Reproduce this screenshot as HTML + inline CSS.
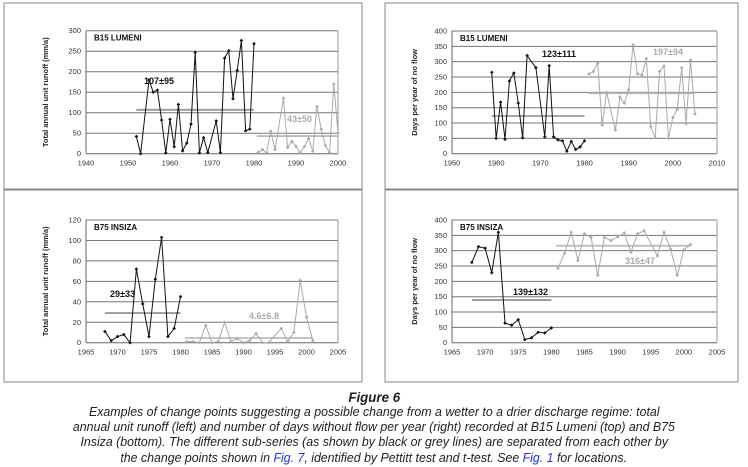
<!DOCTYPE html>
<html><head><meta charset="utf-8">
<style>
body{margin:0;width:748px;height:467px;background:#fff;overflow:hidden;font-family:"Liberation Sans",sans-serif;}
#fig{position:absolute;left:0;top:0}
.cap{position:absolute;left:0;width:748px;text-align:center;font-style:italic;color:#222;white-space:nowrap}
.cap span.l{display:inline-block;transform:scaleX(0.95);transform-origin:center}
a{color:#2233dd;text-decoration:none}
</style></head><body>
<svg id="fig" width="748" height="467" xmlns="http://www.w3.org/2000/svg"></svg>
<div class="cap" style="top:389px;font-size:14px;font-weight:bold"><span class="l">Figure 6</span></div>
<div class="cap" style="top:404px;font-size:13px;line-height:15.2px">
<span class="l">Examples of change points suggesting a possible change from a wetter to a drier discharge regime: total</span><br>
<span class="l">annual unit runoff (left) and number of days without flow per year (right) recorded at B15 Lumeni (top) and B75</span><br>
<span class="l">Insiza (bottom). The different sub-series (as shown by black or grey lines) are separated from each other by</span><br>
<span class="l">the change points shown in <a href="#">Fig. 7</a>, identified by Pettitt test and t-test. See <a href="#">Fig. 1</a> for locations.</span>
</div>
<script>
// Panel A: B15 Lumeni runoff
const aBlackYears=[1952,1953,1955,1956,1957,1958,1959,1960,1961,1962,1963,1964,1965,1966,1967,1968,1969,1971,1972,1973,1974,1975,1976,1977,1978,1979,1980];
const aBlackVals=[42,0,180,150,155,82,2,84,17,120,7,26,72,247,2,39,3,80,3,233,251,134,203,276,56,60,268];
const aGreyYears=[1981,1982,1983,1984,1985,1987,1988,1989,1990,1991,1992,1993,1994,1995,1996,1997,1998,1999,2000];
const aGreyVals=[3,10,2,55,10,135,15,30,18,2,17,37,6,115,60,20,3,170,50];
const aMeans=[107,43];
const aXTicks=[1940,1950,1960,1970,1980,1990,2000];
const aYTicks=[0,50,100,150,200,250,300];
// Panel B: B15 Lumeni no-flow days
const bBlackYears=[1959,1960,1961,1962,1963,1964,1965,1966,1967,1969,1971,1972,1973,1974,1975,1976,1977,1978,1979,1980];
const bBlackVals=[265,50,168,47,237,263,165,52,320,280,55,287,55,45,42,8,40,14,22,42];
const bGreyYears=[1981,1982,1983,1984,1985,1987,1988,1989,1990,1991,1992,1993,1994,1995,1996,1997,1998,1999,2000,2001,2002,2003,2004,2005];
const bGreyVals=[260,268,296,93,200,77,185,165,208,355,260,256,310,88,52,268,286,50,118,145,280,98,305,130];
const bMeans=[123,197];
const bXTicks=[1950,1960,1970,1980,1990,2000,2010];
const bYTicks=[0,50,100,150,200,250,300,350,400];
// Panel C: B75 Insiza runoff
const cBlackYears=[1968,1969,1970,1971,1972,1973,1974,1975,1976,1977,1978,1979,1980];
const cBlackVals=[11,2,6,8,0,72,38,6,62,103,6,14,45];
const cGreyYears=[1981,1982,1983,1984,1985,1986,1987,1988,1989,1990,1991,1992,1993,1994,1996,1997,1998,1999,2000,2001];
const cGreyVals=[1,1,0,17,0,1,20,1,4,0,2,9,0,0,14,1,10,61,25,2];
const cMeans=[29,4.6];
const cXTicks=[1965,1970,1975,1980,1985,1990,1995,2000,2005];
const cYTicks=[0,20,40,60,80,100,120];
// Panel D: B75 Insiza no-flow days
const dBlackYears=[1968,1969,1970,1971,1972,1973,1974,1975,1976,1977,1978,1979,1980];
const dBlackVals=[262,313,308,228,360,64,57,75,10,16,34,32,48];
const dGreyYears=[1981,1982,1983,1984,1985,1986,1987,1988,1989,1990,1991,1992,1993,1994,1996,1997,1998,1999,2000,2001];
const dGreyVals=[243,292,360,268,355,343,220,343,333,345,358,295,355,365,283,360,305,220,303,320];
const dMeans=[139,316];
const dXTicks=cXTicks;
const dYTicks=bYTicks;

const NS="http://www.w3.org/2000/svg";
const svg=document.getElementById('fig');
function mk(tag,attrs,parent){const e=document.createElementNS(NS,tag);for(const k in attrs)e.setAttribute(k,attrs[k]);(parent||svg).appendChild(e);return e;}

function panel(cfg){
  const g=mk('g',{});
  
  
  const fr=mk('rect',{x:cfg.box[0],y:cfg.box[1],width:cfg.box[2],height:cfg.box[3],fill:'#fff',stroke:'#888','stroke-width':1},g);
  
  
  const x0=cfg.px[0],x1=cfg.px[1],y0=cfg.py[0],y1=cfg.py[1];
  const xmin=cfg.xt[0],xmax=cfg.xt[cfg.xt.length-1],ymax=cfg.yt[cfg.yt.length-1];
  const X=v=>x0+(v-xmin)/(xmax-xmin)*(x1-x0);
  const Y=v=>y0-(v/ymax)*(y0-y1);
  cfg.yt.forEach(t=>{
    const l=mk('line',{x1:x0,x2:x1,y1:Y(t),y2:Y(t),stroke:t===0?'#666':'#777','stroke-width':1},g);
    
    
    const tx=mk('text',{x:x0-5,y:Y(t)+2.5,'font-size':7.5,'text-anchor':'end',fill:'#333'},g);
    tx.textContent=t;
    
    
  });
  const ax=mk('line',{x1:x0,x2:x0,y1:y0,y2:y1,stroke:'#666'},g);
  
  
  const rx=mk('line',{x1:x1,x2:x1,y1:y0,y2:y1,stroke:'#999'},g);
  
  
  cfg.xt.forEach(t=>{
    const tx=mk('text',{x:X(t),y:y0+12,'font-size':7.5,'text-anchor':'middle',fill:'#333'},g);
    tx.textContent=t;
    
    
  });
  const yt=mk('text',{x:0,y:0,'font-size':7.5,'font-weight':'bold','text-anchor':'middle',fill:'#222',transform:`translate(${cfg.ytx},${(y0+y1)/2}) rotate(-90)`},g);
  yt.textContent=cfg.ytitle;
  
  
  const st=mk('text',{x:x0+8,y:y1+10,'font-size':8,'font-weight':'bold',fill:'#111'},g);
  st.textContent=cfg.station;
  
  
  const m1=mk('line',{x1:X(cfg.by[0]),x2:X(cfg.by[cfg.by.length-1]),y1:Y(cfg.means[0]),y2:Y(cfg.means[0]),stroke:'#999','stroke-width':1.8},g);
  
  
  const m2=mk('line',{x1:X(cfg.gy[0]-0.3),x2:X(cfg.gy[cfg.gy.length-1]),y1:Y(cfg.means[1]),y2:Y(cfg.means[1]),stroke:'#bbb','stroke-width':1.8},g);
  
  
  [[cfg.by,cfg.bv,'#111','black-series'],[cfg.gy,cfg.gv,'#aaa','grey-series']].forEach(([ys,vs,col,nm])=>{
    const p=mk('polyline',{points:ys.map((y,i)=>X(y)+','+Y(vs[i])).join(' '),fill:'none',stroke:col,'stroke-width':1},g);
    
    
    ys.forEach((y,i)=>{
      const cx=X(y),cy=Y(vs[i]);
      const m=mk('polygon',{points:`${cx},${cy-1.8} ${cx+1.8},${cy} ${cx},${cy+1.8} ${cx-1.8},${cy}`,fill:col},g);
      
      
    });
  });
  const l1=mk('text',{x:cfg.l1[0],y:cfg.l1[1],'font-size':9,'font-weight':'bold',fill:'#111'},g);
  l1.textContent=cfg.lab[0];
  
  
  const l2=mk('text',{x:cfg.l2[0],y:cfg.l2[1],'font-size':9,'font-weight':'bold',fill:'#aaa'},g);
  l2.textContent=cfg.lab[1];
  
  
}
panel({name:'panel-b15-runoff',box:[4,3,358,186],px:[86,338],py:[153.7,30.7],xt:aXTicks,yt:aYTicks,ytx:48,ytitle:'Total annual unit runoff (mm/a)',station:'B15 LUMENI',by:aBlackYears,bv:aBlackVals,gy:aGreyYears,gv:aGreyVals,means:aMeans,lab:['107±95','43±50'],l1:[144,84],l2:[287,122]});
panel({name:'panel-b15-noflow',box:[385,3,353,186],px:[452,717],py:[153.7,31],xt:bXTicks,yt:bYTicks,ytx:417,ytitle:'Days per year of no flow',station:'B15 LUMENI',by:bBlackYears,bv:bBlackVals,gy:bGreyYears,gv:bGreyVals,means:bMeans,lab:['123±111','197±94'],l1:[542,57],l2:[653,55]});
panel({name:'panel-b75-runoff',box:[4,190,358,192],px:[86,338],py:[342.7,220],xt:cXTicks,yt:cYTicks,ytx:48,ytitle:'Total annual unit runoff (mm/a)',station:'B75 INSIZA',by:cBlackYears,bv:cBlackVals,gy:cGreyYears,gv:cGreyVals,means:cMeans,lab:['29±33','4.6±6.8'],l1:[110,297],l2:[249,319]});
panel({name:'panel-b75-noflow',box:[385,190,353,192],px:[452,717],py:[342.7,220],xt:dXTicks,yt:dYTicks,ytx:417,ytitle:'Days per year of no flow',station:'B75 INSIZA',by:dBlackYears,bv:dBlackVals,gy:dGreyYears,gv:dGreyVals,means:dMeans,lab:['139±132','316±47'],l1:[513,295],l2:[625,264]});
</script>
</body></html>
